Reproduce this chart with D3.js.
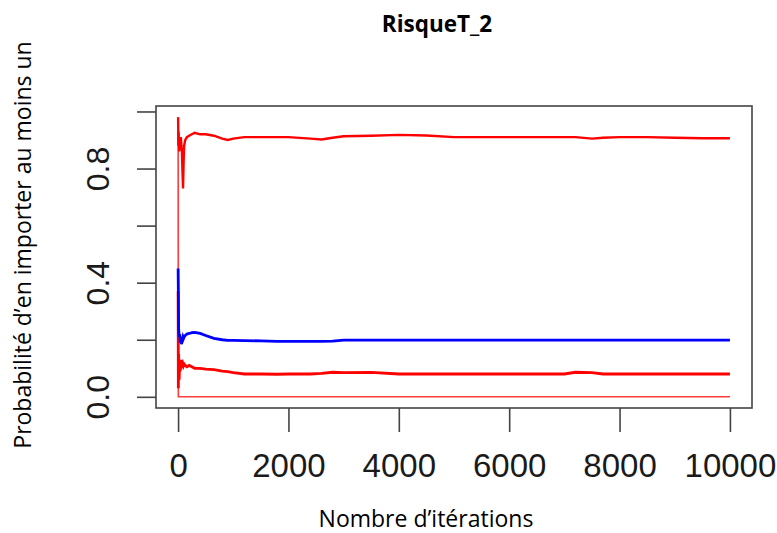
<!DOCTYPE html>
<html>
<head>
<meta charset="utf-8">
<script src="https://cdn.jsdelivr.net/npm/d3@7"></script>
<style>
  body { margin: 0; background: #fff; }
  svg { display: block; }
</style>
</head>
<body>
<svg></svg>
<script>
// iterations where the running estimates were read off the picture
var iterations = [1, 5, 10, 20, 30, 40, 50, 60, 70, 80, 90, 100, 110, 130, 160, 200, 250, 300,
  400, 500, 650, 800, 900, 1000, 1200, 1500, 1800, 2000, 2400, 2600, 2800, 3000, 3500, 4000,
  4500, 5000, 5500, 6000, 6500, 7000, 7200, 7500, 7700, 8000, 8500, 9000, 9500, 10000]

// upper red curve
var redHigh = [0.98, 0.88, 0.93, 0.86, 0.90, 0.87, 0.91, 0.88, 0.86, 0.79, 0.73, 0.82, 0.88, 0.90,
  0.91, 0.915, 0.92, 0.925, 0.92, 0.92, 0.915, 0.905, 0.90, 0.905, 0.91, 0.91, 0.91, 0.91,
  0.905, 0.902, 0.908, 0.913, 0.915, 0.918, 0.916, 0.91, 0.91, 0.91, 0.91, 0.91, 0.91, 0.905,
  0.908, 0.91, 0.91, 0.908, 0.906, 0.906]

// blue curve
var blue = [0.45, 0.37, 0.24, 0.21, 0.22, 0.19, 0.21, 0.185, 0.19, 0.20, 0.21, 0.205, 0.21, 0.215,
  0.22, 0.222, 0.225, 0.226, 0.222, 0.215, 0.205, 0.200, 0.198, 0.198, 0.197, 0.196, 0.194, 0.194,
  0.194, 0.194, 0.195, 0.199, 0.199, 0.199, 0.199, 0.199, 0.199, 0.199, 0.199, 0.199, 0.199, 0.199,
  0.199, 0.199, 0.199, 0.199, 0.199, 0.199]

// lower red curve
var redLow = [0.37, 0.03, 0.15, 0.06, 0.13, 0.09, 0.12, 0.10, 0.13, 0.11, 0.12, 0.11, 0.115, 0.11,
  0.105, 0.11, 0.105, 0.10, 0.10, 0.097, 0.095, 0.09, 0.088, 0.085, 0.08, 0.08, 0.079, 0.08,
  0.08, 0.082, 0.086, 0.085, 0.086, 0.08, 0.08, 0.08, 0.08, 0.08, 0.08, 0.08, 0.086, 0.085,
  0.08, 0.08, 0.08, 0.08, 0.08, 0.08]

// thin red line at zero
var redZero = [0.98, 0, 0, 0, 0, 0, 0, 0, 0, 0, 0, 0, 0, 0, 0, 0, 0, 0, 0, 0, 0, 0, 0, 0,
  0, 0, 0, 0, 0, 0, 0, 0, 0, 0, 0, 0, 0, 0, 0, 0, 0, 0, 0, 0, 0, 0, 0, 0]

var xTicks = [0, 2000, 4000, 6000, 8000, 10000]
var yTicks = [0, 0.2, 0.4, 0.6, 0.8, 1.0]
var yLabels = ["0.0", "", "0.4", "", "0.8", ""]

var width = 777
var height = 533
var box = { left: 156, right: 752, top: 106, bottom: 408 }

var svg = d3.select("svg")
  .attr("width", width)
  .attr("height", height)

// R style 4% padding of the data range
function padded(lo, hi) {
  var p = (hi - lo) * 0.04
  return [lo - p, hi + p]
}

var x = d3.scaleLinear()
  .domain(padded(0, 10000))
  .range([box.left, box.right])

var yMax = d3.max(redHigh.concat(redZero))
var y = d3.scaleLinear()
  .domain(padded(0, yMax))
  .range([box.bottom, box.top])

var line = d3.line()
  .x(function (d) { return x(d[0]) })
  .y(function (d) { return y(d[1]) })

var series = [
  { values: redZero, color: "#ff3b3b", w: 1.6 },
  { values: redLow, color: "#ff0000", w: 2.8 },
  { values: blue, color: "#0000ff", w: 2.8 },
  { values: redHigh, color: "#ff0000", w: 2.4 }
]

svg.selectAll("path.serie")
  .data(series)
  .enter().append("path")
  .attr("class", "serie")
  .attr("fill", "none")
  .attr("stroke", function (d) { return d.color })
  .attr("stroke-width", function (d) { return d.w })
  .attr("d", function (d) {
    return line(iterations.map(function (it, i) { return [it, d.values[i]] }))
  })

// box around the plot
svg.append("rect")
  .attr("x", box.left)
  .attr("y", box.top)
  .attr("width", box.right - box.left)
  .attr("height", box.bottom - box.top)
  .attr("fill", "none")
  .attr("stroke", "#444")
  .attr("stroke-width", 1.6)

// x axis
var xAxis = d3.axisBottom(x)
  .tickValues(xTicks)
  .tickSize(24)
  .tickPadding(22)
  .tickFormat(d3.format("d"))

var gx = svg.append("g")
  .attr("transform", "translate(0," + box.bottom + ")")
  .call(xAxis)
gx.select(".domain").remove()
gx.selectAll(".tick line").attr("stroke", "#444").attr("stroke-width", 1.6)
gx.selectAll(".tick text")
  .attr("fill", "#1a1a1a")
  .style("font-family", "'Liberation Sans', Arial, sans-serif")
  .style("font-size", "33px")

// y axis
var yAxis = d3.axisLeft(y)
  .tickValues(yTicks)
  .tickSize(19)
  .tickFormat(function (d, i) { return yLabels[i] })

var gy = svg.append("g")
  .attr("transform", "translate(" + box.left + ",0)")
  .call(yAxis)
gy.select(".domain").remove()
gy.selectAll(".tick line").attr("stroke", "#444").attr("stroke-width", 1.6)
gy.selectAll(".tick text")
  .attr("x", null)
  .attr("dy", null)
  .attr("fill", "#1a1a1a")
  .attr("text-anchor", "middle")
  .attr("transform", "translate(-47,0) rotate(-90)")
  .style("font-family", "'Liberation Sans', Arial, sans-serif")
  .style("font-size", "32px")

// titles
svg.append("text")
  .attr("x", 437)
  .attr("y", 32)
  .attr("text-anchor", "middle")
  .style("font-family", "'Open Sans', sans-serif")
  .style("font-weight", "bold")
  .style("font-size", "22.5px")
  .text("RisqueT_2")

svg.append("text")
  .attr("x", 426)
  .attr("y", 527)
  .attr("text-anchor", "middle")
  .style("font-family", "'Open Sans', sans-serif")
  .style("font-size", "23px")
  .text("Nombre d’itérations")

svg.append("text")
  .attr("transform", "translate(31,245) rotate(-90)")
  .attr("text-anchor", "middle")
  .style("font-family", "'Open Sans', sans-serif")
  .style("font-size", "23px")
  .text("Probabilité d’en importer au moins un")
</script>
</body>
</html>
